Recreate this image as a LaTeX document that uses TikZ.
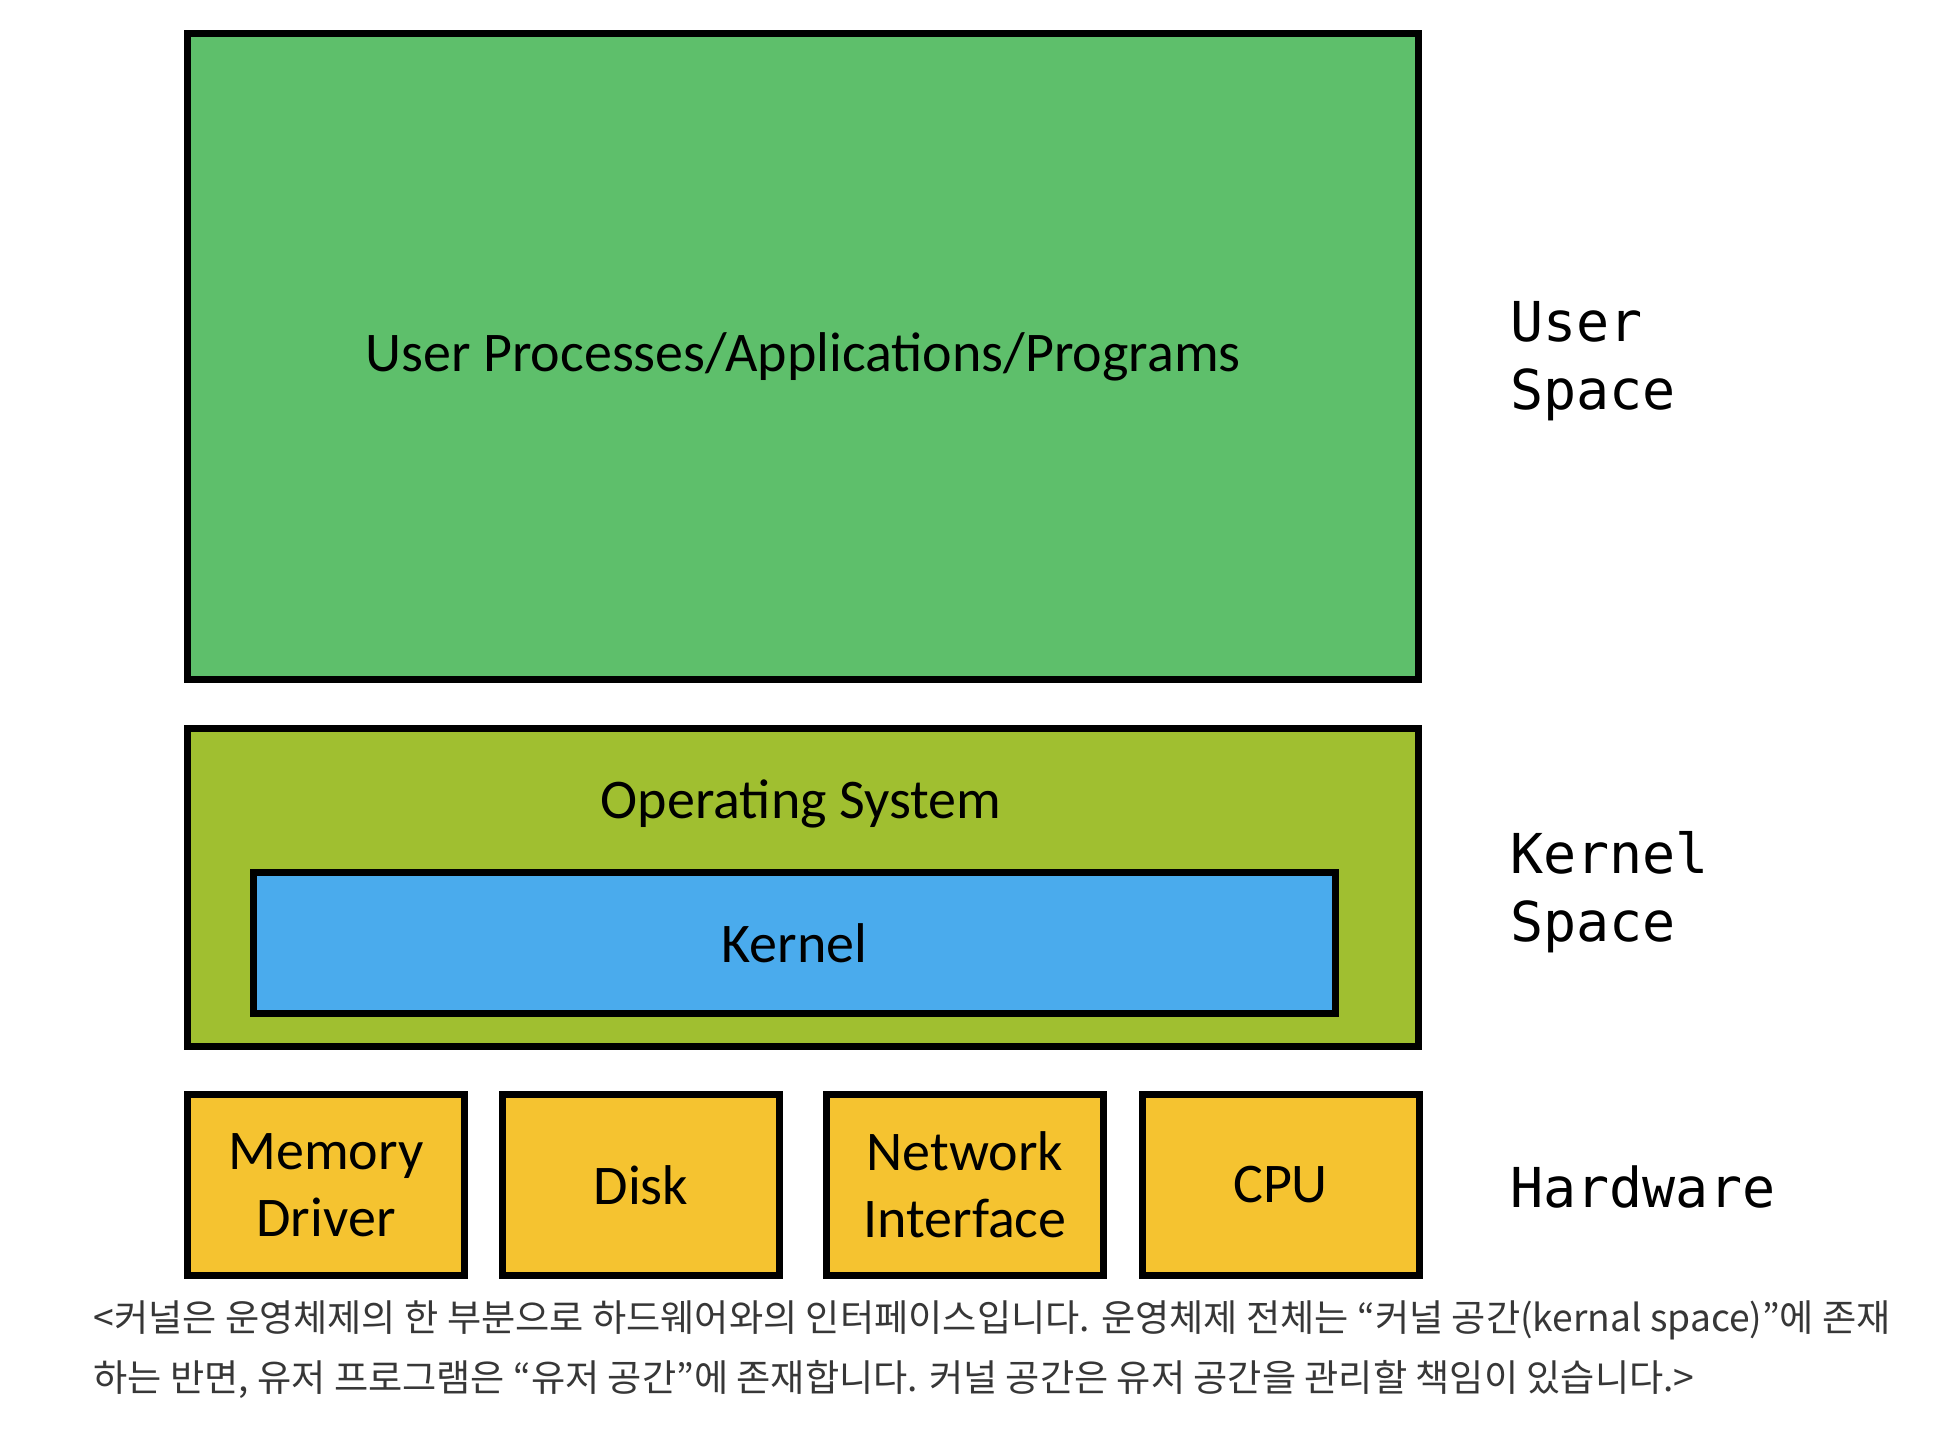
\documentclass[tikz,border=0pt]{standalone}
\usepackage{fontspec}
\setmainfont{Carlito}
\newfontfamily\monofam{DejaVu Sans Mono}
\newfontfamily\cjk{Noto Sans CJK KR}
\definecolor{usergreen}{RGB}{94,191,107}
\definecolor{osgreen}{RGB}{160,191,48}
\definecolor{kernblue}{RGB}{74,171,237}
\definecolor{hwyellow}{RGB}{245,195,48}
\definecolor{captgray}{RGB}{55,55,55}
\tikzset{
  layerbox/.style={draw=black, line width=3.5pt, inner sep=0pt, outer sep=0pt,
    font=\fontsize{28}{33.3}\selectfont, align=center},
  hwbox/.style={layerbox, fill=hwyellow, minimum width=138.5pt, minimum height=90.5pt},
  sidelabel/.style={font=\monofam\fontsize{27.5}{33.8}\selectfont, align=left,
    anchor=base west, inner sep=0pt},
  caption/.style={font=\cjk\fontsize{18.6}{30}\selectfont, text=captgray, align=left,
    anchor=base west, inner sep=0pt}
}
\begin{document}
\begin{tikzpicture}[x=0.5pt,y=-0.5pt]
\path[use as bounding box, fill=white] (0,0) rectangle (1958,1436);
% user space
\node[layerbox, fill=usergreen, minimum width=615.5pt, minimum height=323pt] (user) at (803,356.5)
  {User Processes/Applications/Programs};
% kernel space
\node[layerbox, fill=osgreen, minimum width=615.5pt, minimum height=159pt] (os) at (803,887.5) {};
\node[inner sep=0pt, anchor=base, font=\fontsize{28}{33.3}\selectfont] (ostext) at (801,818.5) {Operating System};
\node[layerbox, fill=kernblue, minimum width=541pt, minimum height=70.5pt] (kernel) at (794.5,943) {Kernel};
% hardware
\node[hwbox] (mem) at (326,1185) {Memory\\Driver};
\node[hwbox] (disk) at (641,1185) {Disk};
\node[hwbox] (net) at (965,1185) {Network\\Interface};
\node[hwbox] (cpu) at (1280.5,1185) {CPU};
% side labels (base = baseline of the last line)
\node[sidelabel] (uslabel) at (1510,409.3) {User\\Space};
\node[sidelabel] (kslabel) at (1510,941) {Kernel\\Space};
\node[sidelabel] (hwlabel) at (1510,1207) {Hardware};
% caption
\node[caption] (capt) at (93,1391) {<커널은 운영체제의 한 부분으로 하드웨어와의 인터페이스입니다. 운영체제 전체는 “커널 공간(kernal space)”에 존재\\하는 반면, 유저 프로그램은 “유저 공간”에 존재합니다. 커널 공간은 유저 공간을 관리할 책임이 있습니다.>};
\end{tikzpicture}
\end{document}
